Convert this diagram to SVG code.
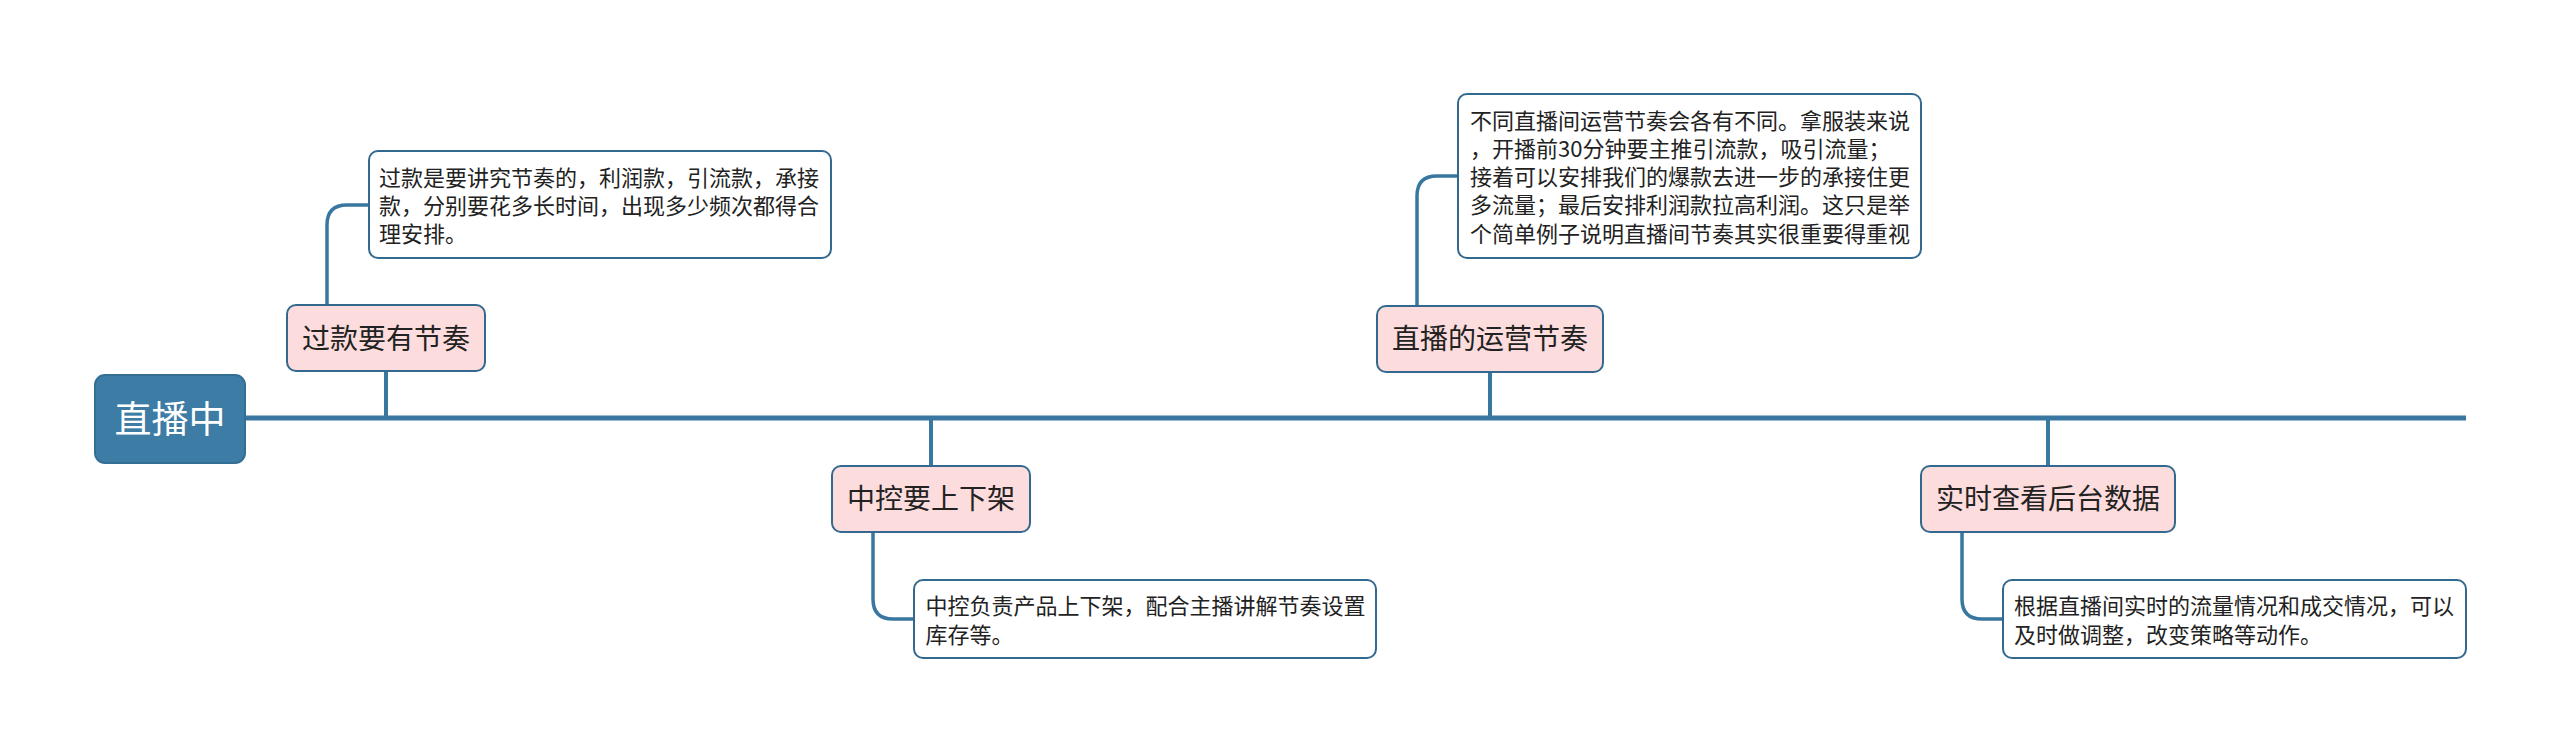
<svg xmlns="http://www.w3.org/2000/svg" width="2560" height="752" viewBox="0 0 2560 752">
<style>
.bg{fill:#ffffff}
.line{fill:none;stroke:#3a77a0;stroke-linecap:butt}
.main{stroke-width:5}
.branch{stroke-width:4}
.sub{stroke-width:3.5}
.root{fill:#3d7ca4;stroke:#336e94;stroke-width:2}
.topic{fill:#fcdcdc;stroke:#33698f;stroke-width:2}
.note{fill:#ffffff;stroke:#33698f;stroke-width:2}
text{font-family:"Noto Sans CJK SC","Noto Sans",sans-serif}
.rt{font-size:37px;fill:#ffffff;text-anchor:middle}
.tt{font-size:28px;fill:#222222;text-anchor:middle}
.nt{font-size:22px;fill:#222222}
</style>
<rect class="bg" x="0" y="0" width="2560" height="752"/>
<g id="connectors">
<path class="line main" d="M245 418 H2466"/>
<path class="line branch" d="M386 371 V418"/>
<path class="line branch" d="M1490 372 V418"/>
<path class="line branch" d="M931 418 V466"/>
<path class="line branch" d="M2048 418 V466"/>
<path class="line sub" d="M327 305 V225 Q327 205 347 205 H369"/>
<path class="line sub" d="M1417 306 V196 Q1417 176 1437 176 H1458"/>
<path class="line sub" d="M873 532 V599 Q873 619 893 619 H914"/>
<path class="line sub" d="M1962 532 V599 Q1962 619 1982 619 H2003"/>
</g>
<g id="root">
<rect class="root" x="95" y="375" width="150" height="88" rx="10"/>
<text class="rt" x="170" y="433">直播中</text>
</g>
<g id="topic1">
<rect class="topic" x="287" y="305" width="198" height="66" rx="9"/>
<text class="tt" x="386" y="348.5">过款要有节奏</text>
</g>
<g id="note1">
<rect class="note" x="369" y="151" width="462" height="107" rx="9"/>
<text class="nt" x="379" y="185.5">过款是要讲究节奏的，利润款，引流款，承接</text>
<text class="nt" x="379" y="213.5">款，分别要花多长时间，出现多少频次都得合</text>
<text class="nt" x="379" y="241.5">理安排。</text>
</g>
<g id="topic2">
<rect class="topic" x="1377" y="306" width="226" height="66" rx="9"/>
<text class="tt" x="1490" y="349">直播的运营节奏</text>
</g>
<g id="note2">
<rect class="note" x="1458" y="94" width="463" height="164" rx="9"/>
<text class="nt" x="1470" y="128.5">不同直播间运营节奏会各有不同。拿服装来说</text>
<text class="nt" x="1470" y="156.8">，开播前30分钟要主推引流款，吸引流量；</text>
<text class="nt" x="1470" y="185.1">接着可以安排我们的爆款去进一步的承接住更</text>
<text class="nt" x="1470" y="213.4">多流量；最后安排利润款拉高利润。这只是举</text>
<text class="nt" x="1470" y="241.7">个简单例子说明直播间节奏其实很重要得重视</text>
</g>
<g id="topic3">
<rect class="topic" x="832" y="466" width="198" height="66" rx="9"/>
<text class="tt" x="931" y="509">中控要上下架</text>
</g>
<g id="note3">
<rect class="note" x="914" y="580" width="462" height="78" rx="9"/>
<text class="nt" x="925.5" y="614">中控负责产品上下架，配合主播讲解节奏设置</text>
<text class="nt" x="925.5" y="642.5">库存等。</text>
</g>
<g id="topic4">
<rect class="topic" x="1921" y="466" width="254" height="66" rx="9"/>
<text class="tt" x="2048" y="509">实时查看后台数据</text>
</g>
<g id="note4">
<rect class="note" x="2003" y="580" width="463" height="78" rx="9"/>
<text class="nt" x="2014" y="614">根据直播间实时的流量情况和成交情况，可以</text>
<text class="nt" x="2014" y="642.5">及时做调整，改变策略等动作。</text>
</g>
</svg>
